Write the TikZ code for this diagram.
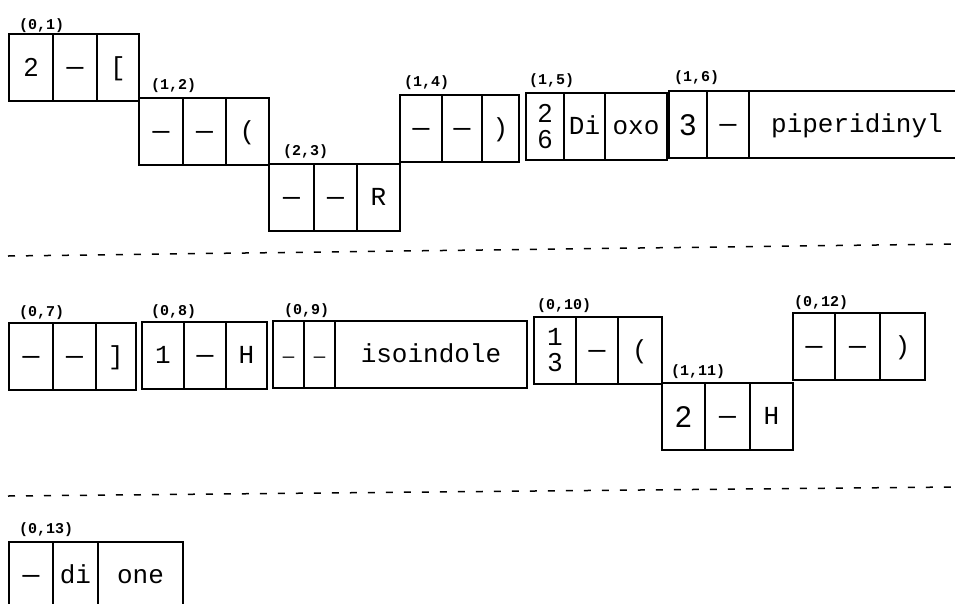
\documentclass[tikz,border=0pt]{standalone}
\usepackage{fontspec}
\setmainfont{Liberation Serif}
\newfontfamily\monof{Liberation Mono}
\newfontfamily\sansf{Liberation Sans}
\begin{document}
\begin{tikzpicture}[x=1pt,y=-1pt,
  box/.style={draw, line width=1.2pt, inner sep=0pt, outer sep=0pt, anchor=north west, minimum height=67pt},
  cell/.style={box, font=\monof\fontsize{26}{30}\selectfont, text height=15pt, text depth=0pt},
  dig/.style={box, font=\sansf\fontsize{26}{30}\selectfont, text height=18.6pt, text depth=0pt},
  bigdig/.style={box, font=\sansf\fontsize{30}{32}\selectfont, text height=21.5pt, text depth=0pt},
  dsh/.style={cell, font=\monof\fontsize{28}{30}\selectfont},
  smdsh/.style={cell, font=\monof\fontsize{19}{30}\selectfont},
  stk/.style={box, align=center, font=\sansf\fontsize{26}{26}\selectfont},
  lab/.style={anchor=west, inner sep=0pt, font=\monof\bfseries\fontsize{15}{16}\selectfont},
  sep/.style={line width=1.5pt, dash pattern=on 7pt off 11pt}]
\path[use as bounding box, clip] (0,0) rectangle (955,603);
\fill[white] (0,0) rectangle (955,603);

% (0,1)
\node[lab] (l01) at (19,26) {(0,1)};
\node[dig, minimum width=44pt] (a1) at (9,34) {2};
\node[dsh, minimum width=44pt] (a2) at (53,34) {—};
\node[cell, minimum width=42pt] (a3) at (97,34) {[};

% (1,2)
\node[lab] (l12) at (151,86) {(1,2)};
\node[dsh, minimum width=44pt] (b1) at (139,98) {—};
\node[dsh, minimum width=43pt] (b2) at (183,98) {—};
\node[cell, minimum width=43pt] (b3) at (226,98) {(};

% (2,3)
\node[lab] (l23) at (283,152) {(2,3)};
\node[dsh, minimum width=45pt] (c1) at (269,164) {—};
\node[dsh, minimum width=43pt] (c2) at (314,164) {—};
\node[cell, minimum width=43pt] (c3) at (357,164) {R};

% (1,4)
\node[lab] (l14) at (404,83) {(1,4)};
\node[dsh, minimum width=42pt] (d1) at (400,95) {—};
\node[dsh, minimum width=40pt] (d2) at (442,95) {—};
\node[cell, minimum width=37pt] (d3) at (482,95) {)};

% (1,5)
\node[lab] (l15) at (529,81) {(1,5)};
\node[stk, minimum width=38pt] (e1) at (526,93) {2\\6};
\node[cell, minimum width=41pt] (e2) at (564,93) {Di};
\node[cell, minimum width=62pt] (e3) at (605,93) {oxo};

% (1,6)
\node[lab] (l16) at (674,78) {(1,6)};
\node[bigdig, minimum width=38pt] (f1) at (669,91) {3};
\node[dsh, minimum width=42pt] (f2) at (707,91) {—};
\node[cell, minimum width=216pt] (f3) at (749,91) {piperidinyl};

% separator 1
\draw[sep] (8,256) coordinate (s1a) -- (955,244) coordinate (s1b);

% (0,7)
\node[lab] (l07) at (19,313) {(0,7)};
\node[dsh, minimum width=44pt] (g1) at (9,323) {—};
\node[dsh, minimum width=43pt] (g2) at (53,323) {—};
\node[cell, minimum width=40pt] (g3) at (96,323) {]};

% (0,8)
\node[lab] (l08) at (151,312) {(0,8)};
\node[cell, minimum width=42pt] (h1) at (142,322) {1};
\node[dsh, minimum width=42pt] (h2) at (184,322) {—};
\node[cell, minimum width=41pt] (h3) at (226,322) {H};

% (0,9)
\node[lab] (l09) at (284,311) {(0,9)};
\node[smdsh, minimum width=31pt] (i1) at (273,321) {—};
\node[smdsh, minimum width=31pt] (i2) at (304,321) {—};
\node[cell, minimum width=192pt] (i3) at (335,321) {isoindole};

% (0,10)
\node[lab] (l010) at (537,306) {(0,10)};
\node[stk, minimum width=42pt] (j1) at (534,317) {{\monof 1}\\3};
\node[dsh, minimum width=42pt] (j2) at (576,317) {—};
\node[cell, minimum width=44pt] (j3) at (618,317) {(};

% (1,11)
\node[lab] (l111) at (671,372) {(1,11)};
\node[bigdig, minimum width=43pt] (k1) at (662,383) {2};
\node[dsh, minimum width=45pt] (k2) at (705,383) {—};
\node[cell, minimum width=43pt] (k3) at (750,383) {H};

% (0,12)
\node[lab] (l012) at (794,303) {(0,12)};
\node[dsh, minimum width=42pt] (m1) at (793,313) {—};
\node[dsh, minimum width=45pt] (m2) at (835,313) {—};
\node[cell, minimum width=45pt] (m3) at (880,313) {)};

% separator 2
\draw[sep] (8,496) coordinate (s2a) -- (955,487) coordinate (s2b);

% (0,13)
\node[lab] (l013) at (19,530) {(0,13)};
\node[dsh, minimum width=44pt] (n1) at (9,542) {—};
\node[cell, minimum width=45pt] (n2) at (53,542) {di};
\node[cell, minimum width=85pt] (n3) at (98,542) {one};
\end{tikzpicture}
\end{document}
